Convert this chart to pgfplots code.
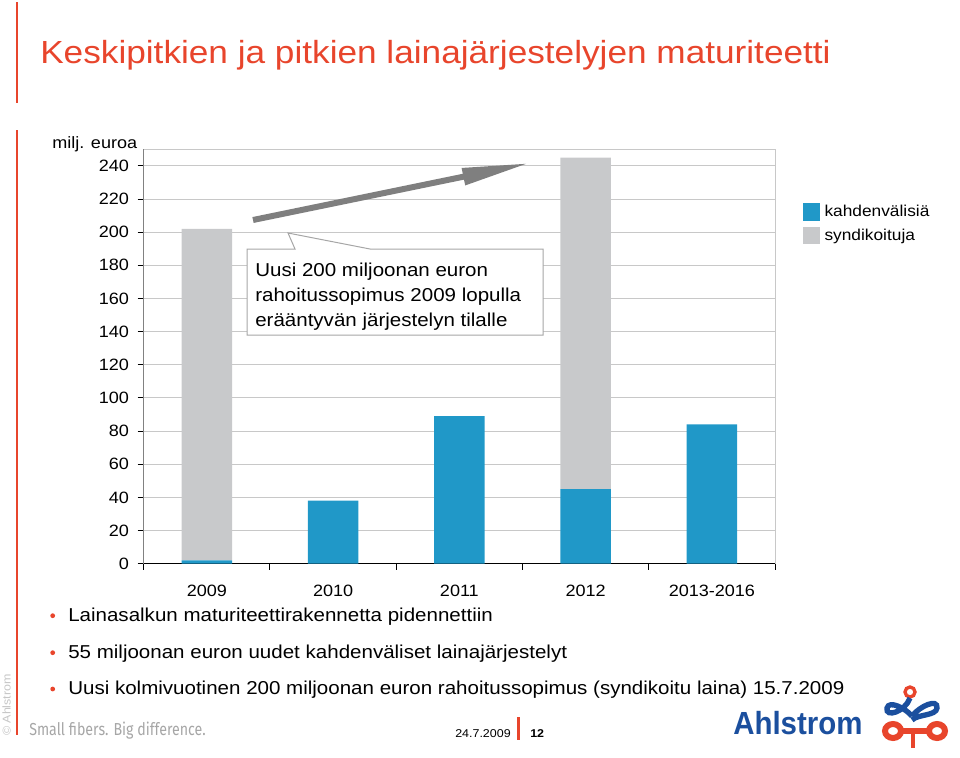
\documentclass[border=0pt]{standalone}
\usepackage{pgfplots}
\pgfplotsset{compat=1.18}
\usepackage{fontspec}
\setmainfont[FakeStretch=1.1]{Liberation Sans}
\newfontfamily\footfont[FakeStretch=0.82]{Fira Sans}
\newfontfamily\logofont[FakeStretch=0.92]{Liberation Sans}
\usetikzlibrary{arrows.meta}
\definecolor{ahred}{HTML}{E8452C}
\definecolor{barblue}{HTML}{2098C8}
\definecolor{bargray}{HTML}{C8C9CB}
\definecolor{gridgray}{HTML}{C8C8C8}
\definecolor{ahblue}{HTML}{1B4F9E}
\definecolor{arrowgray}{HTML}{7F7F7F}
\begin{document}
\begin{tikzpicture}[x=0.75pt,y=0.75pt]
\path[use as bounding box] (0,0) rectangle (960,-757);
% red vertical rules
\draw[ahred, line width=1.5pt] (17,-2) -- (17,-103);
\draw[ahred, line width=1.5pt] (17,-130) -- (17,-735);
% title
\node[anchor=base west, inner sep=0, text=ahred, font=\fontsize{24}{28}\selectfont] at (40,-63.5) {Keskipitkien ja pitkien lainajärjestelyjen maturiteetti};
\node[anchor=base west, inner sep=0, font=\fontsize{12.3}{14}\selectfont] at (52,-148.3) {milj. euroa};

\begin{axis}[
  at={(107.775pt,-422.775pt)}, anchor=south west,
  scale only axis, width=473.5pt, height=310.8pt,
  xmin=-0.5, xmax=4.5, ymin=0, ymax=250,
  ybar stacked, bar width=0.4,
  axis line style={draw=gridgray, line width=0.75pt},
  ymajorgrids, grid style={draw=gridgray, line width=0.75pt},
  ytick={0,20,...,240},
  ytick pos=left, xtick pos=bottom,
  tick align=outside,
  major tick length=4.5pt,
  tick style={black, line width=0.75pt},
  xtick={-0.5,0.5,1.5,2.5,3.5,4.5},
  xticklabels={},
  extra x ticks={0,1,2,3,4},
  extra x tick labels={2009,2010,2011,2012,2013-2016},
  extra x tick style={tick style={draw=none}, xticklabel style={yshift=-8pt}},
  /pgf/number format/assume math mode=true,
  ticklabel style={font=\fontsize{12.3}{14}\selectfont},
  yticklabel style={xshift=-3pt},
  legend style={at={(1.0435,0.872)}, anchor=north west, draw=none, fill=none,
    font=\fontsize{11.8}{13}\selectfont, row sep=3.5pt, inner sep=0pt,
    nodes={inner xsep=3.6pt, inner ysep=2pt}},
  legend cell align=left,
  legend image code/.code={\fill[#1] (0pt,-6.4pt) rectangle (12.75pt,6.4pt);},
]
\addplot[fill=barblue, draw=none] coordinates {(0,2) (1,38) (2,89) (3,45) (4,84)};
\addlegendentry{kahdenvälisiä}
\addplot[fill=bargray, draw=none] coordinates {(0,200) (1,0) (2,0) (3,200) (4,0)};
\addlegendentry{syndikoituja}
\draw[black, line width=0.75pt] (rel axis cs:0,1) -- (rel axis cs:0,0) -- (rel axis cs:1,0);
\end{axis}

% arrow
\draw[draw=arrowgray, line width=4.5pt, -{Triangle[length=51pt, width=12pt]}] (253,-220) -- (530,-163);
% callout
\draw[draw=gray!70, fill=white, line width=0.75pt] (247,-249) -- (295,-249) -- (288,-233) -- (370,-249) -- (543,-249) -- (543,-335) -- (247,-335) -- cycle;
\begin{scope}[every node/.style={anchor=base west, inner sep=0, font=\fontsize{14}{17}\selectfont}]
\node at (255,-276) {Uusi 200 miljoonan euron};
\node at (255,-301.5) {rahoitussopimus 2009 lopulla};
\node at (255,-326.7) {erääntyvän järjestelyn tilalle};
\end{scope}

% bullets
\begin{scope}[every node/.style={anchor=base west, inner sep=0, font=\fontsize{14}{17}\selectfont}]
\fill[ahred] (52.7,-615.7) circle (2.4);
\node at (68,-621) {Lainasalkun maturiteettirakennetta pidennettiin};
\fill[ahred] (52.7,-652.7) circle (2.4);
\node at (68,-658) {55 miljoonan euron uudet kahdenväliset lainajärjestelyt};
\fill[ahred] (52.7,-689) circle (2.4);
\node at (68,-694.3) {Uusi kolmivuotinen 200 miljoonan euron rahoitussopimus (syndikoitu laina) 15.7.2009};
\end{scope}

% footer
\node[rotate=90, anchor=base, inner sep=0, text=gray!45, font=\fontsize{8.5}{10}\selectfont] at (10.5,-705) {© Ahlstrom};
\node[anchor=base west, inner sep=0, text=gray!70, font=\footfont\fontsize{13}{15}\selectfont] at (29,-735) {Small fibers. Big difference.};
\node[anchor=base west, inner sep=0, font=\fontsize{8.5}{10}\selectfont] at (455,-737) {24.7.2009};
\draw[ahred, line width=2.25pt] (518,-717) -- (518,-740);
\node[anchor=base west, inner sep=0, font=\bfseries\fontsize{8.5}{10}\selectfont] at (530,-737) {12};
\node[anchor=base west, inner sep=0, text=ahblue, font=\logofont\bfseries\fontsize{24}{28}\selectfont] at (733,-734.3) {Ahlstrom};
% logo symbol (approximation)
\draw[ahred, line width=2.5pt] (910,-692) circle (5);
\draw[ahblue, line width=4pt] (910,-698) .. controls (905,-712) and (885,-718) .. (887,-708) .. controls (889,-700) and (905,-708) .. (912,-716);
\draw[ahblue, line width=4pt] (912,-716) .. controls (920,-706) and (938,-698) .. (937,-708) .. controls (936,-716) and (918,-714) .. (912,-720);
\draw[ahred, line width=4.5pt] (893,-731) ellipse (8 and 7);
\draw[ahred, line width=4.5pt] (937,-731) ellipse (8 and 7);
\draw[ahred, line width=4.5pt] (901,-731) -- (929,-731);
\draw[ahred, line width=3.5pt] (913,-731) -- (913,-748);
\end{tikzpicture}
\end{document}
